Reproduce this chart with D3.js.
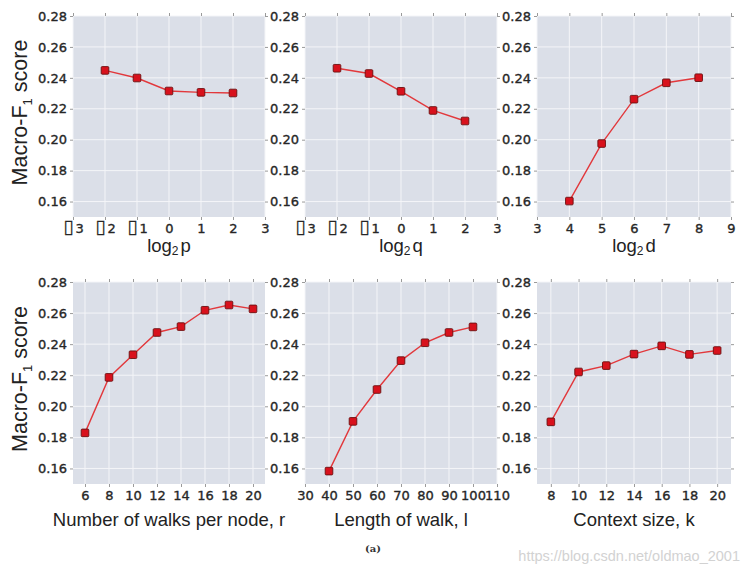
<!DOCTYPE html>
<html>
<head>
<meta charset="utf-8">
<script src="https://cdn.jsdelivr.net/npm/d3@7/dist/d3.min.js"></script>
<style>
  html, body { margin: 0; padding: 0; background: #ffffff; }
  svg { display: block; }
  .tick text { font-family: "DejaVu Sans", sans-serif; font-size: 13px; fill: #262626; stroke: #262626; stroke-width: 0.35px; }
</style>
</head>
<body>
<svg id="chart" width="746" height="578"></svg>
<script>
// ---------------- data ----------------
const yTicks = [0.16, 0.18, 0.20, 0.22, 0.24, 0.26, 0.28];
const yDomain = [0.15, 0.28];

const logTicks = [-3, -2, -1, 0, 1, 2, 3];
const logTickLabels = ["\u25AF3", "\u25AF2", "\u25AF1", "0", "1", "2", "3"];

const pX = [-2, -1, 0, 1, 2];
const pF1 = [0.2448, 0.2399, 0.2315, 0.2306, 0.2302];

const qX = [-2, -1, 0, 1, 2];
const qF1 = [0.2462, 0.2428, 0.2313, 0.2189, 0.2121];

const dTicks = [3, 4, 5, 6, 7, 8, 9];
const dX = [4, 5, 6, 7, 8];
const dF1 = [0.1603, 0.1975, 0.2262, 0.2368, 0.2401];

const rTicks = [6, 8, 10, 12, 14, 16, 18, 20];
const rX = [6, 8, 10, 12, 14, 16, 18, 20];
const rF1 = [0.1829, 0.2186, 0.2332, 0.2475, 0.2513, 0.2618, 0.2652, 0.2627];

const lTicks = [30, 40, 50, 60, 70, 80, 90, 100, 110];
const lX = [40, 50, 60, 70, 80, 90, 100];
const lF1 = [0.1583, 0.1903, 0.2108, 0.2294, 0.2409, 0.2475, 0.2511];

const kTicks = [8, 10, 12, 14, 16, 18, 20];
const kX = [8, 10, 12, 14, 16, 18, 20];
const kF1 = [0.1900, 0.2221, 0.2262, 0.2336, 0.2389, 0.2334, 0.2359];

// ---------------- layout ----------------
const cols = [[73, 265], [305, 497], [537, 731]];
const rows = [[16, 217], [282, 484]];

const panels = [
  { col: 0, row: 0, xDomain: [-3, 3], ticks: logTicks, labels: logTickLabels, x: pX, y: pF1, title: ["log", "2", "p"], yTitle: true },
  { col: 1, row: 0, xDomain: [-3, 3], ticks: logTicks, labels: logTickLabels, x: qX, y: qF1, title: ["log", "2", "q"] },
  { col: 2, row: 0, xDomain: [3, 9], ticks: dTicks, labels: dTicks.map(String), x: dX, y: dF1, title: ["log", "2", "d"] },
  { col: 0, row: 1, xDomain: [5, 21], ticks: rTicks, labels: rTicks.map(String), x: rX, y: rF1, title: ["Number of walks per node, r"], yTitle: true },
  { col: 1, row: 1, xDomain: [30, 110], ticks: lTicks, labels: lTicks.map(String), x: lX, y: lF1, title: ["Length of walk, l"] },
  { col: 2, row: 1, xDomain: [7, 21], ticks: kTicks, labels: kTicks.map(String), x: kX, y: kF1, title: ["Context size, k"] }
];

const svg = d3.select("#chart");
const bg = "#dbdfe8";
const lineColor = "#e2383c";
const tickColor = "#9a9a9a";

panels.forEach(p => {
  const [x0, x1] = cols[p.col];
  const [y0, y1] = rows[p.row];
  const xs = d3.scaleLinear().domain(p.xDomain).range([x0, x1]);
  const ys = d3.scaleLinear().domain(yDomain).range([y1, y0]);
  const g = svg.append("g");

  g.append("rect").attr("x", x0).attr("y", y0).attr("width", x1 - x0).attr("height", y1 - y0).attr("fill", bg);

  // grid
  g.selectAll(".gx").data(p.ticks).join("line")
    .attr("x1", d => xs(d)).attr("x2", d => xs(d)).attr("y1", y0).attr("y2", y1)
    .attr("stroke", "#f4f5f8").attr("stroke-width", 1);
  g.selectAll(".gy").data(yTicks).join("line")
    .attr("x1", x0).attr("x2", x1).attr("y1", d => ys(d)).attr("y2", d => ys(d))
    .attr("stroke", "#f4f5f8").attr("stroke-width", 1);

  // axes
  const fmtX = d => p.labels[p.ticks.indexOf(d)];
  const bottom = g.append("g").attr("transform", `translate(0,${y1})`)
    .call(d3.axisBottom(xs).tickValues(p.ticks).tickFormat(fmtX).tickSize(3).tickPadding(4));
  const top = g.append("g").attr("transform", `translate(0,${y0})`)
    .call(d3.axisTop(xs).tickValues(p.ticks).tickFormat("").tickSize(3));
  const left = g.append("g").attr("transform", `translate(${x0},0)`)
    .call(d3.axisLeft(ys).tickValues(yTicks).tickFormat(d3.format(".2f")).tickSize(3).tickPadding(3));
  const right = g.append("g").attr("transform", `translate(${x1},0)`)
    .call(d3.axisRight(ys).tickValues(yTicks).tickFormat("").tickSize(3));
  [bottom, top, left, right].forEach(a => {
    a.select(".domain").remove();
    a.selectAll(".tick line").attr("stroke", tickColor);
  });
  // missing-glyph boxes drawn larger, as in the reference
  bottom.selectAll(".tick text").each(function (d) {
    const s = fmtX(d);
    if (s.startsWith("\u25AF")) {
      const sel = d3.select(this).text(null);
      sel.append("tspan").attr("font-size", 19).attr("stroke-width", 0.2).text("\u25AF");
      sel.append("tspan").attr("dx", 2).text(s.slice(1));
    }
  });

  // line + markers
  const pts = p.x.map((v, i) => [v, p.y[i]]);
  g.append("path").datum(pts)
    .attr("fill", "none").attr("stroke", lineColor).attr("stroke-width", 1.4)
    .attr("d", d3.line().x(d => xs(d[0])).y(d => ys(d[1])));
  g.selectAll(".m").data(pts).join("rect")
    .attr("x", d => xs(d[0]) - 3.8).attr("y", d => ys(d[1]) - 3.8)
    .attr("width", 7.6).attr("height", 7.6).attr("rx", 1)
    .attr("fill", "#d8111c").attr("stroke", "#6a1010").attr("stroke-width", 0.9);

  // x title
  const tx = (x0 + x1) / 2;
  const ty = p.row === 0 ? y1 + 35 : y1 + 42;
  const t = g.append("text").attr("x", tx).attr("y", ty)
    .attr("text-anchor", "middle")
    .attr("font-family", "Liberation Sans, Arial, sans-serif")
    .attr("font-size", 18.5).attr("fill", "#222");
  if (p.title.length === 3) {
    t.append("tspan").text(p.title[0]);
    t.append("tspan").attr("font-size", 12).attr("dy", 3).text(p.title[1]);
    t.append("tspan").attr("dy", -3).attr("dx", 2).text(p.title[2]);
  } else {
    t.text(p.title[0]);
  }

  // y title
  if (p.yTitle) {
    const cy = (y0 + y1) / 2;
    const yt = g.append("text")
      .attr("transform", `translate(27,${cy - 4}) rotate(-90)`)
      .attr("text-anchor", "middle")
      .attr("font-family", "Liberation Sans, Arial, sans-serif")
      .attr("font-size", 21.5).attr("fill", "#222");
    yt.append("tspan").text("Macro-F");
    yt.append("tspan").attr("font-size", 13).attr("dy", 5).text("1");
    yt.append("tspan").attr("dy", -5).text(" score");
  }
});

// caption
svg.append("text").attr("x", 373).attr("y", 552).attr("text-anchor", "middle")
  .attr("font-family", "DejaVu Serif, serif").attr("font-size", 10).attr("font-weight", "bold")
  .attr("fill", "#333").text("(a)");

// watermark
svg.append("text").attr("x", 740).attr("y", 561).attr("text-anchor", "end")
  .attr("font-family", "Liberation Sans, Arial, sans-serif").attr("font-size", 14.5)
  .attr("fill", "#d2d2d2").text("https://blog.csdn.net/oldmao_2001");
</script>
</body>
</html>
